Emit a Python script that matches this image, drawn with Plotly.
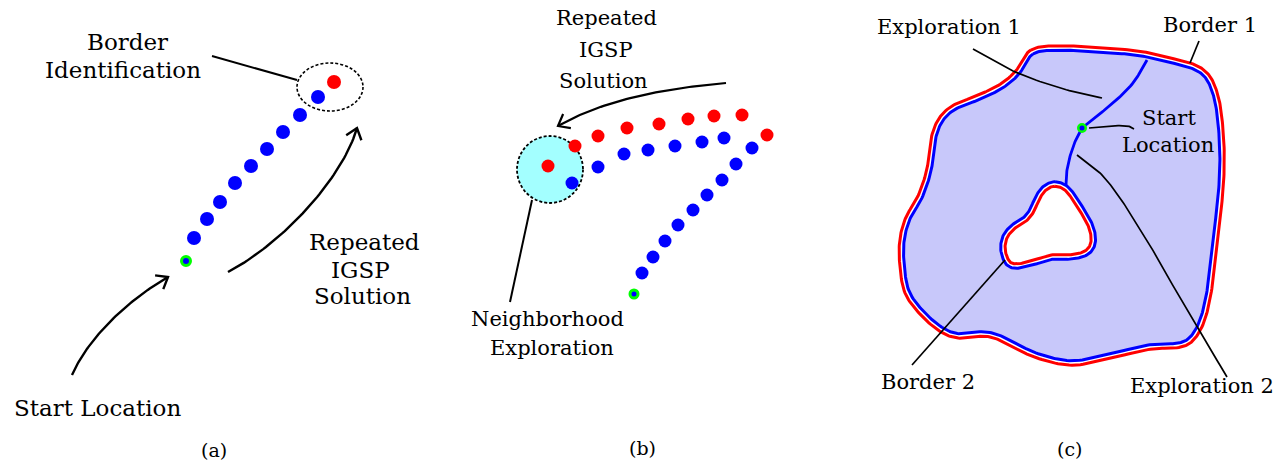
import numpy as np
import plotly.graph_objects as go

# ---------------- data (image pixel coordinates, y downward) ----------------
# panel (a)
A_START = [(186, 261)]
A_BLUE = [(194, 238), (207, 219), (220, 202), (235, 183), (251, 166),
          (267, 149), (283, 132), (300, 115), (318, 97)]
A_RED = [(334, 82)]
A_ELLIPSE = (297, 63, 363, 111)
A_BORDER_PTR = [(212, 56), (297, 80)]
A_ARROW_START = [(72, 375), (88, 338), (128, 300), (168, 277)]
A_ARROW_REPEAT = [(228, 272), (280, 245), (342, 180), (357, 128)]

# panel (b)
B_START = [(634, 294)]
B_BLUE = [(572, 183), (598, 167), (624, 154), (648, 150), (675, 146), (702, 142),
          (724, 138), (752, 148), (736, 164), (722, 180), (707, 195), (693, 210),
          (678, 225), (665, 241), (653, 257), (642, 273)]
B_RED = [(548, 166), (575, 146), (598, 136), (627, 128), (659, 124), (688, 119),
         (714, 116), (742, 115), (767, 135)]
B_CIRCLE = (517, 136, 583, 203)
B_NEIGH_PTR = [(532, 200), (510, 302)]
B_ARROW = [(726, 83), (666, 88), (603, 100), (558, 126)]

# panel (c)
C_OUTER = [(1032, 52), (1060, 48), (1100, 50), (1137, 53), (1165, 59), (1192, 66),
           (1206, 75), (1214, 90), (1219, 112), (1222, 150), (1221, 188), (1216, 235),
           (1211, 280), (1204, 315), (1194, 336), (1180, 345), (1150, 347), (1110, 356),
           (1072, 363), (1035, 355), (1005, 340), (985, 334), (960, 336), (942, 330),
           (922, 313), (907, 292), (902, 265), (902, 240), (908, 218), (920, 197),
           (929, 170), (933, 140), (940, 121), (953, 108), (977, 98), (1000, 87),
           (1017, 73)]
C_HOLE = [(1055, 184), (1067, 189), (1080, 207), (1091, 227), (1093, 243), (1086, 253),
          (1070, 257), (1053, 257), (1035, 262), (1018, 266), (1008, 263), (1003, 250),
          (1005, 237), (1013, 227), (1023, 221), (1031, 212), (1038, 197), (1045, 188)]
C_START = [(1082, 128)]
C_EXPL1 = [(1082, 128), (1088, 123), (1113, 103), (1133, 83), (1147, 60)]
C_EXPL2 = [(1082, 128), (1077, 137), (1071, 153), (1067, 170), (1066, 185)]
C_PTR_EXPL1 = [(973, 49), (1013, 71), (1060, 88), (1102, 98)]
C_PTR_BORDER1 = [(1199, 41), (1190, 63)]
C_PTR_START = [(1089, 128), (1110, 126), (1127, 126), (1134, 129)]
C_PTR_EXPL2 = [(1077, 155), (1100, 173), (1118, 195), (1133, 218), (1147, 240),
               (1160, 263), (1193, 320), (1227, 377)]
C_PTR_BORDER2 = [(1005, 260), (912, 365)]

# labels: (text, x, y, size)
LABELS = [
    ("Border", 127, 42, 23), ("Identification", 123, 70, 23),
    ("Repeated", 364, 242, 23), ("IGSP", 360, 270, 23), ("Solution", 362, 296, 23),
    ("Start Location", 97, 408, 23),
    ("Repeated", 606, 18, 21), ("IGSP", 606, 50, 21), ("Solution", 603, 81, 21),
    ("Neighborhood", 547, 319, 21), ("Exploration", 552, 348, 21),
    ("Exploration 1", 949, 27, 21), ("Border 1", 1210, 25, 21),
    ("Start", 1169, 118, 21), ("Location", 1168, 145, 21),
    ("Border 2", 928, 382, 21), ("Exploration 2", 1202, 386, 21),
]
CAPTIONS = [("(a)", 214, 450), ("(b)", 642, 448), ("(c)", 1069, 449)]

BLUE, RED, GREEN = "#0000ff", "#ff0000", "#00ff00"
FONT = "DejaVu Serif"


# ---------------- helpers ----------------
def catmull(pts, closed=False, n=14):
    P = np.array(pts, float)
    if closed:
        P = np.vstack([P[-1], P, P[0], P[1]])
    else:
        P = np.vstack([2 * P[0] - P[1], P, 2 * P[-1] - P[-2]])
    out = []
    t = np.linspace(0, 1, n, endpoint=False)[:, None]
    for i in range(1, len(P) - 2):
        p0, p1, p2, p3 = P[i - 1], P[i], P[i + 1], P[i + 2]
        seg = 0.5 * (2 * p1 + (-p0 + p2) * t + (2 * p0 - 5 * p1 + 4 * p2 - p3) * t ** 2
                     + (-p0 + 3 * p1 - 3 * p2 + p3) * t ** 3)
        out.append(seg)
    out.append(P[-2][None])
    return np.vstack(out)


def offset_closed(curve, d):
    """positive d -> inward"""
    c = curve[:-1]
    tang = np.roll(c, -1, 0) - np.roll(c, 1, 0)
    tang /= np.linalg.norm(tang, axis=1)[:, None]
    left = np.stack([-tang[:, 1], tang[:, 0]], 1)
    x, y = c[:, 0], c[:, 1]
    area = 0.5 * np.sum(x * np.roll(y, -1) - np.roll(x, -1) * y)
    res = c + left * np.sign(area) * d
    return np.vstack([res, res[:1]])


def bezier(ctrl, n=60):
    P = np.array(ctrl, float)
    t = np.linspace(0, 1, n)[:, None]
    return ((1 - t) ** 3 * P[0] + 3 * (1 - t) ** 2 * t * P[1]
            + 3 * (1 - t) * t ** 2 * P[2] + t ** 3 * P[3])


def arrowhead(curve, length=12, ang=38):
    tip = curve[-1]
    d = tip - curve[-4]
    d /= np.linalg.norm(d)
    a = np.radians(ang)
    pts = []
    for s in (a, -a):
        rot = np.array([[np.cos(s), -np.sin(s)], [np.sin(s), np.cos(s)]])
        pts.append(tip - length * rot @ d)
    return np.array([pts[0], tip, pts[1]])


fig = go.Figure()


def line(arr, color="black", width=2.0, fill=None, fillcolor=None):
    arr = np.asarray(arr, float)
    fig.add_trace(go.Scatter(x=arr[:, 0], y=arr[:, 1], mode="lines",
                             line=dict(color=color, width=width),
                             fill=fill, fillcolor=fillcolor, hoverinfo="skip"))


def dots(pts, color, size, lc=None, lw=0):
    arr = np.asarray(pts, float)
    fig.add_trace(go.Scatter(x=arr[:, 0], y=arr[:, 1], mode="markers",
                             marker=dict(color=color, size=size,
                                         line=dict(color=lc or color, width=lw)),
                             hoverinfo="skip"))


# ---------------- panel (c) region ----------------
outer = catmull(C_OUTER, closed=True)
hole = catmull(C_HOLE, closed=True)
outer_blue = offset_closed(outer, 2.2)
outer_red = offset_closed(outer, -2.2)
hole_blue = offset_closed(hole, -2.2)
hole_red = offset_closed(hole, 2.2)

line(outer_blue, color="rgba(0,0,0,0)", width=0, fill="toself", fillcolor="#c8c8fa")
line(hole_blue, color="rgba(0,0,0,0)", width=0, fill="toself", fillcolor="#ffffff")
line(outer_red, RED, 3.0)
line(outer_blue, BLUE, 3.0)
line(hole_red, RED, 3.0)
line(hole_blue, BLUE, 3.0)
line(catmull(C_EXPL1), BLUE, 2.8)
line(catmull(C_EXPL2), BLUE, 2.8)

for ptr in (C_PTR_EXPL1, C_PTR_BORDER1, C_PTR_START, C_PTR_EXPL2, C_PTR_BORDER2):
    line(catmull(ptr), "black", 1.7)
dots(C_START, BLUE, 7.5, GREEN, 2.5)

# ---------------- panel (a) ----------------
line(A_BORDER_PTR, "black", 2.0)
for ctrl in (A_ARROW_START, A_ARROW_REPEAT):
    cv = bezier(ctrl)
    line(cv, "black", 2.4)
    line(arrowhead(cv, 13), "black", 2.4)
dots(A_BLUE, BLUE, 14)
dots(A_RED, RED, 14)
dots(A_START, BLUE, 9, GREEN, 3)

# ---------------- panel (b) ----------------
line(B_NEIGH_PTR, "black", 2.0)
cv = bezier(B_ARROW)
line(cv, "black", 2.2)
line(arrowhead(cv, 13), "black", 2.2)
dots(B_BLUE, BLUE, 13)
dots(B_RED, RED, 13)
dots(B_START, BLUE, 8, GREEN, 3)

shapes = [
    dict(type="circle", xref="x", yref="y", x0=A_ELLIPSE[0], y0=A_ELLIPSE[1],
         x1=A_ELLIPSE[2], y1=A_ELLIPSE[3], layer="below",
         line=dict(color="black", width=1.6, dash="3px,2px")),
    dict(type="circle", xref="x", yref="y", x0=B_CIRCLE[0], y0=B_CIRCLE[1],
         x1=B_CIRCLE[2], y1=B_CIRCLE[3], layer="below", fillcolor="#a3ffff",
         line=dict(color="black", width=1.8, dash="3px,2px")),
]

annotations = []
for txt, x, y, s in LABELS:
    annotations.append(dict(text=txt, x=x, y=y, xref="x", yref="y", showarrow=False,
                            xanchor="center", yanchor="middle",
                            font=dict(family=FONT, size=s, color="black")))
for txt, x, y in CAPTIONS:
    annotations.append(dict(text=txt, x=x, y=y, xref="x", yref="y", showarrow=False,
                            xanchor="center", yanchor="middle",
                            font=dict(family=FONT, size=19, color="black")))

fig.update_layout(
    width=1288, height=466, margin=dict(l=0, r=0, t=0, b=0),
    paper_bgcolor="white", plot_bgcolor="white", showlegend=False,
    hovermode=False, shapes=shapes, annotations=annotations,
    font=dict(family=FONT),
    xaxis=dict(range=[0, 1288], visible=False, fixedrange=True),
    yaxis=dict(range=[466, 0], visible=False, fixedrange=True),
)
fig.write_html("out.html", config={"displayModeBar": False},
               post_script="document.body.style.margin='0';"
                           "document.body.style.overflow='hidden';")
